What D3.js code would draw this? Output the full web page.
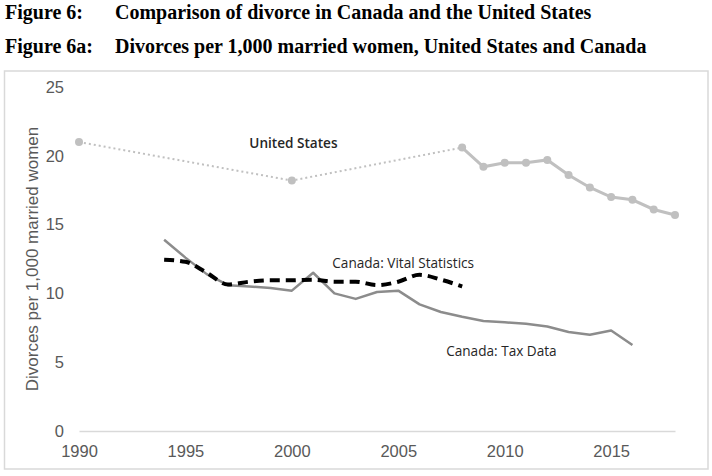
<!DOCTYPE html>
<html>
<head>
<meta charset="utf-8">
<script src="https://cdn.jsdelivr.net/npm/d3@7"></script>
<style>
  html, body { margin: 0; padding: 0; background: #fff; }
  svg { display: block; }
</style>
</head>
<body>
<svg id="chart" width="712" height="476"></svg>
<script>
// ---- Data ----
const usYearsDotted = [1990, 2000, 2008];
const usValuesDotted = [21.0, 18.2, 20.6];
const usYears = [2008, 2009, 2010, 2011, 2012, 2013, 2014, 2015, 2016, 2017, 2018];
const usValues = [20.6, 19.2, 19.5, 19.5, 19.7, 18.6, 17.7, 17.0, 16.8, 16.1, 15.7];

const taxYears = [1994, 1995, 1996, 1997, 1998, 1999, 2000, 2001, 2002, 2003, 2004, 2005, 2006, 2007, 2008, 2009, 2010, 2011, 2012, 2013, 2014, 2015, 2016];
const taxValues = [13.9, 12.6, 11.4, 10.6, 10.5, 10.4, 10.2, 11.5, 10.0, 9.6, 10.1, 10.2, 9.2, 8.65, 8.3, 8.0, 7.9, 7.8, 7.6, 7.2, 7.0, 7.3, 6.25];

const vitalYears = [1994, 1995, 1996, 1997, 1998, 1999, 2000, 2001, 2002, 2003, 2004, 2005, 2006, 2007, 2008];
const vitalValues = [12.45, 12.3, 11.5, 10.65, 10.85, 10.95, 10.95, 11.0, 10.85, 10.85, 10.6, 10.85, 11.35, 11.0, 10.5];

const xTicks = [1990, 1995, 2000, 2005, 2010, 2015];
const yTicks = [0, 5, 10, 15, 20, 25];

const titles = [
  ["Figure 6:", "Comparison of divorce in Canada and the United States"],
  ["Figure 6a:", "Divorces per 1,000 married women, United States and Canada"]
];
const yTitle = "Divorces per 1,000 married women";
const seriesLabels = [
  {text: "United States", year: 1998.0, value: 20.55, weight: 600},
  {text: "Canada: Vital Statistics", year: 2001.9, value: 11.85, weight: 400},
  {text: "Canada: Tax Data", year: 2007.25, value: 5.45, weight: 400}
];

// ---- Drawing ----
const svg = d3.select("#chart");
const x = d3.scaleLinear().domain([1990, 2018]).range([79, 675]);
const y = d3.scaleLinear().domain([0, 25]).range([431, 87]);

// titles
titles.forEach((t, i) => {
  const g = svg.append("g").attr("transform", `translate(0, ${19 + i * 34})`);
  g.append("text").attr("x", 5).attr("y", 0).text(t[0])
    .attr("font-family", "'Liberation Serif', 'Times New Roman', serif")
    .attr("font-weight", "bold").attr("font-size", 20).attr("fill", "#000");
  g.append("text").attr("x", 115).attr("y", 0).text(t[1])
    .attr("font-family", "'Liberation Serif', 'Times New Roman', serif")
    .attr("font-weight", "bold").attr("font-size", 20).attr("fill", "#000");
});

// chart border
svg.append("rect").attr("x", 4.5).attr("y", 71).attr("width", 703.5).attr("height", 398)
  .attr("fill", "none").attr("stroke", "#d9d9d9").attr("stroke-width", 1.5);

// x axis
const xAxis = d3.axisBottom(x).tickValues(xTicks).tickFormat(d3.format("d")).tickSize(0).tickPadding(14);
const gx = svg.append("g").attr("transform", `translate(0, ${y(0)})`).call(xAxis);
gx.select(".domain").attr("stroke", "#d9d9d9").attr("stroke-width", 1.5);
gx.selectAll("text").attr("font-family", "'Liberation Sans', Arial, sans-serif")
  .attr("font-size", 16.5).attr("fill", "#595959");

// y axis (labels only)
const yAxis = d3.axisLeft(y).tickValues(yTicks).tickSize(0).tickPadding(0);
const gy = svg.append("g").attr("transform", `translate(64, 0)`).call(yAxis);
gy.select(".domain").remove();
gy.selectAll("text").attr("font-family", "'Liberation Sans', Arial, sans-serif")
  .attr("font-size", 16.5).attr("fill", "#595959");

// y title
svg.append("text")
  .attr("transform", `translate(38, 259) rotate(-90)`)
  .attr("text-anchor", "middle")
  .attr("font-family", "'Liberation Sans', Arial, sans-serif")
  .attr("font-size", 17).attr("fill", "#595959")
  .text(yTitle);

const line = d3.line().x(d => x(d[0])).y(d => y(d[1]));

// US dotted
const usDot = usYearsDotted.map((yr, i) => [yr, usValuesDotted[i]]);
svg.append("path").datum(usDot).attr("d", line)
  .attr("fill", "none").attr("stroke", "#c0c0c0").attr("stroke-width", 2)
  .attr("stroke-dasharray", "2,3");
// US solid
const usSolid = usYears.map((yr, i) => [yr, usValues[i]]);
svg.append("path").datum(usSolid).attr("d", line)
  .attr("fill", "none").attr("stroke", "#c0c0c0").attr("stroke-width", 3);
svg.selectAll("circle.us").data(usDot.slice(0, 2).concat(usSolid)).enter()
  .append("circle").attr("class", "us")
  .attr("cx", d => x(d[0])).attr("cy", d => y(d[1])).attr("r", 4)
  .attr("fill", "#c0c0c0");

// Canada tax
const tax = taxYears.map((yr, i) => [yr, taxValues[i]]);
svg.append("path").datum(tax).attr("d", line)
  .attr("fill", "none").attr("stroke", "#8c8c8c").attr("stroke-width", 2.5)
  .attr("stroke-linejoin", "round");

// Canada vital
const vital = vitalYears.map((yr, i) => [yr, vitalValues[i]]);
svg.append("path").datum(vital).attr("d", d3.line().x(d => x(d[0])).y(d => y(d[1])).curve(d3.curveMonotoneX))
  .attr("fill", "none").attr("stroke", "#000").attr("stroke-width", 4)
  .attr("stroke-dasharray", "10,6");

// series labels
seriesLabels.forEach(l => {
  svg.append("text").attr("x", x(l.year)).attr("y", y(l.value))
    .attr("font-family", "'Open Sans', 'Noto Sans', sans-serif")
    .attr("font-size", 13.6).attr("font-weight", l.weight).attr("fill", "#262626")
    .text(l.text);
});
</script>
</body>
</html>
